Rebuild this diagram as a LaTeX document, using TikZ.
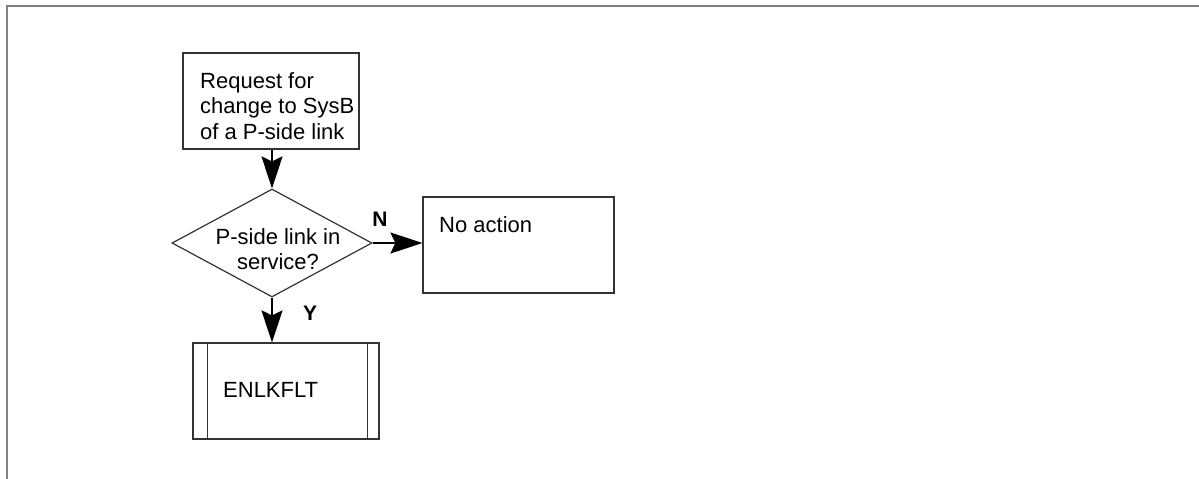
\documentclass[tikz,border=0pt]{standalone}
\usepackage{fontspec}
\setmainfont{Liberation Sans}
\usetikzlibrary{arrows.meta,shapes.geometric}
\begin{document}
\begin{tikzpicture}[x=1pt,y=-1pt,
  boxline/.style={draw=black!80,line width=1.2pt},
  procbox/.style={boxline,rectangle,inner sep=0pt},
  decision/.style={boxline,diamond,inner sep=0pt,minimum width=200pt,minimum height=108pt},
  txt/.style={inner sep=0pt,font=\fontsize{22pt}{25.5pt}\selectfont},
  lbl/.style={inner sep=0pt,font=\fontsize{21pt}{25pt}\selectfont\bfseries},
  flow/.style={line width=2.2pt,black,-{Stealth[length=32pt,width=21pt,inset=5pt]}},
  frameline/.style={draw=black!50,line width=2pt}]
\useasboundingbox (0,0) rectangle (1199,479);
\draw[frameline] (7,479) -- (7,6) -- (1199,6);
% nodes
\node[procbox,minimum width=176pt,minimum height=96pt] (req) at (271,101) {};
\node[txt,anchor=north west,align=left] (reqt) at (200,72) {Request for\\change to SysB\\of a P-side link};
\node[decision] (dia) at (272,243) {};
\node[txt,anchor=north,align=center] (diat) at (278,228) {P-side link in\\service?};
\node[procbox,minimum width=191pt,minimum height=96pt] (noact) at (518.5,245) {};
\node[txt,anchor=base west] (noactt) at (439,232) {No action};
\node[procbox,minimum width=186pt,minimum height=96pt] (enl) at (286,391) {};
\draw[boxline] ([xshift=15pt]enl.north west) coordinate (enlA) -- (enlA |- enl.south);
\draw[boxline] ([xshift=-12pt]enl.north east) coordinate (enlB) -- (enlB |- enl.south);
\node[txt,anchor=base west] (enlt) at (223,397) {ENLKFLT};
\node[lbl] (nl) at (380,219) {N};
\node[lbl] (yl) at (310,313) {Y};
% connectors
\draw[flow] (req.south -| dia.north) -- (dia.north);
\draw[flow] (dia.east) -- (dia.east -| noact.west);
\draw[flow] (dia.south) -- (dia.south |- enl.north);
\end{tikzpicture}
\end{document}
